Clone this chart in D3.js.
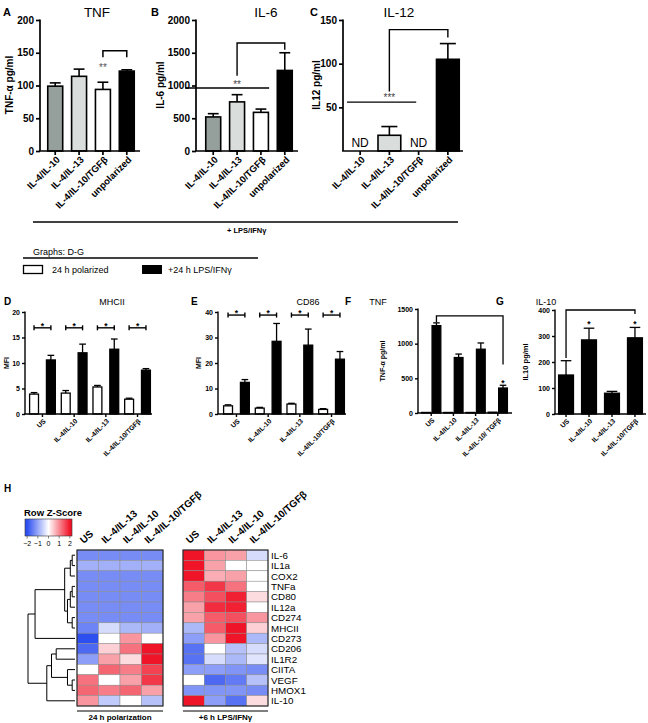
<!DOCTYPE html>
<html><head><meta charset="utf-8">
<script src="https://cdn.jsdelivr.net/npm/d3@7"></script>
<style>body{margin:0;background:#fff} svg{display:block} text{font-family:"Liberation Sans",Arial,Helvetica,sans-serif}</style>
</head><body><svg id="fig" width="648" height="723"></svg>
<script>
// ---------------- DATA ----------------
const topCats = ["IL-4/IL-10","IL-4/IL-13","IL-4/IL-10/TGFβ","unpolarized"];
const topColors = ["#959f9b","#d9dddb","#ffffff","#000000"];
const tnfMean = [99,114,94,122];
const tnfSem  = [5,11,11,2];
const il6Mean = [520,750,590,1230];
const il6Sem  = [50,110,50,270];
const il12Mean = [null,18,null,105];
const il12Sem  = [null,10,null,18];
const aTicks = [0,50,100,150,200];
const bTicks = [0,500,1000,1500,2000];
const cTicks = [50,100,150];

const lowCats = ["US","IL-4/IL-10","IL-4/IL-13","IL-4/IL-10/TGFβ"];
const fCats = ["US","IL-4/IL-10","IL-4/IL-13","IL-4/IL-10/ TGFβ"];
const seriesKeys = ["24 h polarized","+24 h LPS/IFNγ"];
const mhcPol = [3.9,4.1,5.3,2.9],   mhcPolSem = [0.3,0.5,0.3,0.2];
const mhcLps = [10.6,12.0,12.7,8.6], mhcLpsSem = [0.9,1.7,2.0,0.3];
const cd86Pol = [3.2,2.3,3.9,1.8],  cd86PolSem = [0.4,0.3,0.3,0.3];
const cd86Lps = [12.4,28.5,27.0,21.5], cd86LpsSem = [1.1,7.0,6.3,3.0];
const tnfFPol = [8,8,8,12],        tnfFPolSem = [0,0,0,0];
const tnfFLps = [1260,800,920,360], tnfFLpsSem = [40,50,90,40];
const il10G = [150,285,80,293],     il10GSem = [55,45,7,40];
const dTicks = [0,5,10,15,20], eTicks = [0,10,20,30,40], fTicks = [0,500,1000,1500], gTicks = [0,100,200,300,400];

const genes = ["IL-6","IL1a","COX2","TNFa","CD80","IL12a","CD274","MHCII","CD273","CD206","IL1R2","CIITA","VEGF","HMOX1","IL-10"];
const hmCols = ["US","IL-4/IL-13","IL-4/IL-10","IL-4/IL-10/TGFβ"];
const zPolar = [
 [-1.3,-1.3,-1.3,-1.3],[-0.9,-0.9,-0.9,-0.9],[-1.3,-1.3,-1.3,-1.3],[-1.3,-1.3,-1.3,-1.3],
 [-1.3,-1.3,-1.3,-1.3],[-1.3,-1.3,-1.3,-1.3],[-1.3,-1.3,-1.3,-1.3],[-1.4,-0.4,-0.8,-0.9],
 [-2.0,0.0,0.9,0.0],[-1.7,0.4,1.2,2.0],[-1.1,0.8,0.3,2.0],[0.0,1.3,1.1,1.6],
 [1.2,0.0,0.8,1.7],[1.3,1.1,1.3,0.8],[0.9,-0.6,0.0,-0.7]];
const zLps = [
 [2.0,0.9,0.8,-0.4],[2.0,0.8,0.0,0.0],[2.0,0.7,0.8,0.0],[1.4,1.7,1.2,0.0],
 [1.1,1.5,1.9,0.3],[0.8,1.8,1.9,0.0],[0.8,1.4,1.5,0.9],[-0.8,1.4,2.0,0.4],
 [-1.1,0.9,2.0,-0.8],[-1.6,0.0,-0.7,-0.4],[-1.6,-0.4,-0.8,-0.3],[-1.1,-1.1,-1.2,-1.3],
 [0.0,-1.7,-1.5,-0.7],[-1.2,-1.2,-1.2,-1.3],[2.0,-1.1,-1.6,0.3]];
const keyTicks = [-2,-1,0,1,2];
// dendrogram merges: [childA, childB, height]; leaves are gene indices, merges "m<i>"
const merges = [
 [0,1,0.6],["m0",2,1.0],[3,4,0.6],["m2",5,1.0],[6,7,0.6],["m3","m4",1.6],["m1","m5",2.2],["m6",8,8.5],
 [9,10,4.0],[12,13,0.6],[11,"m9",1.6],["m8","m10",5.0],["m11",14,6.0],["m7","m12",10]];

// ---------------- DRAW ----------------
const svg = d3.select("#fig");
const FONT = '"Liberation Sans",Arial,sans-serif';

function txt(g, x, y, s, o={}) {
  const t = g.append("text").attr("x",x).attr("y",y).text(s)
    .attr("font-size", o.size||9).attr("font-weight", o.bold?"bold":"normal")
    .attr("text-anchor", o.anchor||"start").attr("fill", o.fill||"#000");
  if (o.rotate!=null) t.attr("transform",`rotate(${o.rotate},${x},${y})`);
  if (o.dy) t.attr("dy", o.dy);
  return t;
}
function line(g,x1,y1,x2,y2,w=1,c="#000"){
  return g.append("line").attr("x1",x1).attr("y1",y1).attr("x2",x2).attr("y2",y2).attr("stroke",c).attr("stroke-width",w);
}
function yAxis(g, y, ticks, axisX, o) {
  const ax = d3.axisLeft(y).tickValues(ticks).tickSize(o.tick).tickPadding(o.pad).tickFormat(d3.format("d"));
  const a = g.append("g").attr("transform",`translate(${axisX},0)`).call(ax);
  a.select(".domain").remove();
  line(a,0,y.range()[0],0,y.range()[1]-0.5,o.w);
  a.selectAll(".tick line").attr("stroke-width",o.w);
  a.selectAll(".tick text").attr("font-size",o.font).attr("font-weight","bold").attr("font-family",FONT);
}
function xAxis(g, xc, y0, axisX, axisEnd, cats, o) {
  line(g, axisX - o.w/2, y0, axisEnd, y0, o.w);
  cats.forEach((c,i)=>{
    const cx = xc(i);
    line(g,cx,y0,cx,y0+o.tick,o.w);
    g.append("text").text(c).attr("font-size",o.font).attr("font-weight","bold")
      .attr("text-anchor","end").attr("dy","0.35em")
      .attr("transform",`translate(${cx+o.dx},${y0+o.off}) rotate(-45)`);
  });
}

// ---- top bar panels ----
function topPanel(cfg){
  const g = svg.append("g");
  const y = d3.scaleLinear().domain(cfg.domain).range([151,20]);
  const x = d3.scaleBand().domain(topCats).range(cfg.xr).paddingInner(cfg.pad);
  const bw = x.bandwidth();
  topCats.forEach((c,i)=>{
    const v = cfg.mean[i]; if (v==null) return;
    const e = cfg.sem[i];
    const cx = x(c)+bw/2;
    line(g,cx,y(v),cx,y(v+e),1.6);
    line(g,cx-bw*0.33,y(v+e),cx+bw*0.33,y(v+e),1.6);
  });
  g.selectAll("rect.bar").data(topCats.map((c,i)=>({c,v:cfg.mean[i],i})).filter(d=>d.v!=null)).join("rect")
    .attr("x",d=>x(d.c)+0.75).attr("width",bw-1.5)
    .attr("y",d=>y(d.v)).attr("height",d=>y(0)-y(d.v))
    .attr("fill",d=>topColors[d.i]).attr("stroke","#000").attr("stroke-width",1.6);
  yAxis(g,y,cfg.ticks,cfg.axisX,{tick:4,pad:2,w:1.7,font:10});
  xAxis(g,i=>x(topCats[i])+bw/2,151,cfg.axisX,cfg.xEnd,topCats,{w:1.7,tick:4,font:9.5,off:7,dx:3});
  txt(g,cfg.ylx,85,cfg.ylabel,{size:10,bold:true,anchor:"middle",rotate:-90});
  txt(g,cfg.titleX,17,cfg.title,{size:13.5,anchor:"middle"});
  txt(g,cfg.letterX,16,cfg.letter,{size:11,bold:true});
  return {g,x,y,bw};
}
// A
const A = topPanel({domain:[0,200],ticks:aTicks,xr:[47,135],pad:0.31,axisX:40,xEnd:140,mean:tnfMean,sem:tnfSem,
  ylabel:"TNF-α pg/ml",ylx:13,title:"TNF",titleX:97,letter:"A",letterX:3});
{ const {g,x,y,bw}=A; const c3=x(topCats[2])+bw/2, c4=x(topCats[3])+bw/2;
  const yb=y(153), yl=y(143);
  g.append("path").attr("d",`M${c3},${yl}V${yb}H${c4}V${yl}`).attr("fill","none").attr("stroke","#000").attr("stroke-width",1.5);
  txt(g,c3,y(130)+5,"**",{size:10,anchor:"middle",fill:"#555"}); }
// B
const B = topPanel({domain:[0,2000],ticks:bTicks,xr:[205,293],pad:0.31,axisX:196,xEnd:298,mean:il6Mean,sem:il6Sem,
  ylabel:"IL-6 pg/ml",ylx:164,title:"IL-6",titleX:266,letter:"B",letterX:151});
{ const {g,x,y,bw}=B; const c2=x(topCats[1])+bw/2, c4=x(topCats[3])+bw/2;
  line(g,185,y(962),x(topCats[2])+bw,y(962),1.4);
  txt(g,c2,y(1040)+5,"**",{size:10,anchor:"middle",fill:"#444"});
  g.append("path").attr("d",`M${c2},${y(1150)}V${y(1650)}H${c4}V${y(1545)}`).attr("fill","none").attr("stroke","#000").attr("stroke-width",1.4); }
// C
const C = topPanel({domain:[0,150],ticks:cTicks,xr:[348,460],pad:0.17,axisX:343,xEnd:463,mean:il12Mean,sem:il12Sem,
  ylabel:"IL12 pg/ml",ylx:320,title:"IL-12",titleX:399,letter:"C",letterX:310});
{ const {g,x,y,bw}=C; const c2=x(topCats[1])+bw/2, c4=x(topCats[3])+bw/2;
  [0,2].forEach(i=>txt(g,x(topCats[i])+bw/2,147,"ND",{size:12,anchor:"middle"}));
  line(g,347,y(56),x(topCats[2])+bw*0.4,y(56),1.4);
  txt(g,c2,y(63)+5,"***",{size:10,anchor:"middle",fill:"#444"});
  g.append("path").attr("d",`M${c2},${y(68)}V${y(139)}H${c4}V${y(130)}`).attr("fill","none").attr("stroke","#000").attr("stroke-width",1.4); }
// LPS line
line(svg,33,222,458,222,1.6);
txt(svg,227,233,"+ LPS/IFNγ",{size:7.5,bold:true});

// legend
txt(svg,33,255,"Graphs: D-G",{size:9});
line(svg,23,258,258,258,1.4);
svg.append("rect").attr("x",23.5).attr("y",265.5).attr("width",19).attr("height",8).attr("fill","#fff").attr("stroke","#000").attr("stroke-width",1.3);
txt(svg,52,273,seriesKeys[0],{size:9});
svg.append("rect").attr("x",142).attr("y",265).attr("width",20).attr("height",9).attr("fill","#000");
txt(svg,168,273,seriesKeys[1],{size:9});

// ---- lower grouped panels ----
function lowPanel(cfg){
  const g = svg.append("g");
  const y = d3.scaleLinear().domain(cfg.domain).range([cfg.y0,cfg.y1]);
  const x = d3.scaleBand().domain(cfg.cats).range(cfg.xr).paddingInner(cfg.pad);
  const inner = d3.scaleBand().domain(cfg.series.map((s,i)=>i)).range([0,x.bandwidth()]).paddingInner(cfg.ipad);
  const ibw = inner.bandwidth();
  const colors = cfg.colors;
  cfg.series.forEach((s,si)=>{
    cfg.cats.forEach((c,i)=>{
      const v=s.mean[i], e=s.sem[i];
      const cx = x(c)+inner(si)+ibw/2;
      if (e>0){ line(g,cx,y(v),cx,y(v+e),1.3); line(g,cx-ibw*0.33,y(v+e),cx+ibw*0.33,y(v+e),1.3); }
    });
    g.selectAll(null).data(cfg.cats.map((c,i)=>({c,v:s.mean[i]}))).join("rect")
      .attr("x",d=>x(d.c)+inner(si)+0.6).attr("width",ibw-1.2)
      .attr("y",d=>y(d.v)).attr("height",d=>Math.max(0,y(0)-y(d.v)))
      .attr("fill",colors[si]).attr("stroke","#000").attr("stroke-width",1.3);
  });
  yAxis(g,y,cfg.ticks,cfg.axisX,{tick:3,pad:2,w:1.4,font:7});
  xAxis(g,i=>x(cfg.cats[i])+x.bandwidth()/2,cfg.y0,cfg.axisX,cfg.xEnd,cfg.cats,{w:1.4,tick:3,font:6.8,off:6,dx:2});
  txt(g,cfg.ylx,(cfg.y0+cfg.y1)/2,cfg.ylabel,{size:cfg.ylsize||7,bold:true,anchor:"middle",rotate:-90});
  txt(g,cfg.titleX,305,cfg.title,{size:9,anchor:"middle"});
  txt(g,cfg.letterX,305,cfg.letter,{size:10,bold:true});
  return {g,x,y,inner,ibw};
}
function pairBrackets(P, val){
  const {g,x,y,inner,ibw}=P;
  x.domain().forEach(c=>{
    const a=x(c)+inner(0)+ibw/2, b=x(c)+inner(1)+ibw/2, yy=y(val);
    line(g,a,yy,b,yy,1.4); line(g,a,yy-2.5,a,yy+2.5,1.4); line(g,b,yy-2.5,b,yy+2.5,1.4);
    txt(g,(a+b)/2,yy+1,"*",{size:8.5,bold:true,anchor:"middle"});
  });
}
const D = lowPanel({domain:[0,20],ticks:dTicks,y0:414,y1:312,xr:[29,151],pad:0.15,ipad:0.4,axisX:25,xEnd:152,cats:lowCats,
  series:[{mean:mhcPol,sem:mhcPolSem},{mean:mhcLps,sem:mhcLpsSem}],colors:["#fff","#000"],
  ylabel:"MFI",ylx:9,title:"MHCII",titleX:112,letter:"D",letterX:4});
pairBrackets(D,16.9);
const E = lowPanel({domain:[0,40],ticks:eTicks,y0:414,y1:312,xr:[223,345],pad:0.15,ipad:0.4,axisX:218,xEnd:346,cats:lowCats,
  series:[{mean:cd86Pol,sem:cd86PolSem},{mean:cd86Lps,sem:cd86LpsSem}],colors:["#fff","#000"],
  ylabel:"MFI",ylx:201,title:"CD86",titleX:308,letter:"E",letterX:191});
pairBrackets(E,38.8);
const F = lowPanel({domain:[0,1500],ticks:fTicks,y0:413,y1:309,xr:[421,508],pad:0.08,ipad:0.05,axisX:418,xEnd:512,cats:fCats,
  series:[{mean:tnfFPol,sem:tnfFPolSem},{mean:tnfFLps,sem:tnfFLpsSem}],colors:["#fff","#000"],
  ylabel:"TNF-α pg/ml",ylx:385,title:"TNF",titleX:378,letter:"F",letterX:345});
{ const {g,x,y,inner,ibw}=F; const a=x(fCats[0])+inner(1)+ibw/2, b=x(fCats[3])+inner(1)+ibw/2;
  g.append("path").attr("d",`M${a},${y(1310)}V${y(1400)}H${b}V${y(700)}`).attr("fill","none").attr("stroke","#000").attr("stroke-width",1.3);
  txt(g,b,y(455)+5,"*",{size:8.5,bold:true,anchor:"middle"}); }
const G = lowPanel({domain:[0,400],ticks:gTicks,y0:414,y1:310,xr:[558,643],pad:0.3,ipad:0,axisX:555,xEnd:646,cats:lowCats,
  series:[{mean:il10G,sem:il10GSem}],colors:["#000"],
  ylabel:"IL10 pg/ml",ylx:528,ylsize:7.5,title:"IL-10",titleX:546,letter:"G",letterX:496});
{ const {g,x,y,inner,ibw}=G; const a=x(lowCats[0])+ibw/2, b=x(lowCats[3])+ibw/2;
  g.append("path").attr("d",`M${a},${y(215)}V${y(400)}H${b}V${y(385)}`).attr("fill","none").attr("stroke","#000").attr("stroke-width",1.3);
  [1,3].forEach(i=>txt(g,x(lowCats[i])+ibw/2,y(352)+5,"*",{size:8.5,bold:true,anchor:"middle"})); }

// ---- heatmap H ----
const hg = svg.append("g");
txt(hg,4,492,"H",{size:10,bold:true});
const color = d3.scaleLinear().domain([-2,0,2]).range(["#2d4ff0","#ffffff","#f01428"]).clamp(true);
const yH = d3.scaleBand().domain(genes).range([550,706]);
function matrix(z, xr, title){
  const xH = d3.scaleBand().domain(hmCols).range(xr);
  const cells=[]; genes.forEach((gn,r)=>hmCols.forEach((c,k)=>cells.push({gn,c,v:z[r][k]})));
  hg.append("g").selectAll("rect").data(cells).join("rect")
    .attr("x",d=>xH(d.c)).attr("y",d=>yH(d.gn)).attr("width",xH.bandwidth()).attr("height",yH.bandwidth())
    .attr("fill",d=>color(d.v)).attr("stroke","#8a8a8a").attr("stroke-width",0.5);
  hg.append("rect").attr("x",xr[0]).attr("y",550).attr("width",xr[1]-xr[0]).attr("height",156)
    .attr("fill","none").attr("stroke","#222").attr("stroke-width",1.1);
  hmCols.forEach(c=>{
    const x0 = xH(c)+xH.bandwidth()/2-4;
    hg.append("text").text(c).attr("font-size",10).attr("font-weight","bold")
      .attr("transform",`translate(${x0},544) rotate(-42)`);
  });
  line(hg,xr[0],711,xr[1],711,1.1);
  txt(hg,(xr[0]+xr[1])/2,720,title,{size:8,bold:true,anchor:"middle"});
}
matrix(zPolar,[77,163],"24 h polarization");
matrix(zLps,[183,268],"+6 h LPS/IFNγ");
genes.forEach(gn=>txt(hg,271,yH(gn)+yH.bandwidth()/2,gn,{size:9.8,dy:"0.36em"}));

// color key
txt(hg,24,516,"Row Z-Score",{size:9.5,bold:true});
const kx = d3.scaleLinear().domain([-2.2,2.2]).range([25,72]);
const grad = svg.append("defs").append("linearGradient").attr("id","kg");
d3.range(-2.2,2.21,0.2).forEach(v=>grad.append("stop").attr("offset",(v+2.2)/4.4).attr("stop-color",color(v)));
hg.append("rect").attr("x",25).attr("y",519).attr("width",47).attr("height",17).attr("fill","url(#kg)").attr("stroke","#333").attr("stroke-width",0.6);
keyTicks.forEach(v=>{ line(hg,kx(v),536,kx(v),538.5,0.6,"#333"); txt(hg,kx(v),546,d3.format("d")(v).replace("-","−"),{size:7,anchor:"middle"}); });

// dendrogram
const dx = d3.scaleLinear().domain([0,10]).range([75,28]);
const nodes = {};
genes.forEach((gn,i)=>nodes[i]={y:yH(gn)+yH.bandwidth()/2,h:0});
merges.forEach((m,i)=>{
  const a=nodes[m[0]], b=nodes[m[1]], h=m[2];
  const xm=dx(h);
  hg.append("path").attr("d",`M${dx(a.h)},${a.y}H${xm}V${b.y}H${dx(b.h)}`)
    .attr("fill","none").attr("stroke","#000").attr("stroke-width",1);
  nodes["m"+i]={y:(a.y+b.y)/2,h};
});
</script></body></html>
